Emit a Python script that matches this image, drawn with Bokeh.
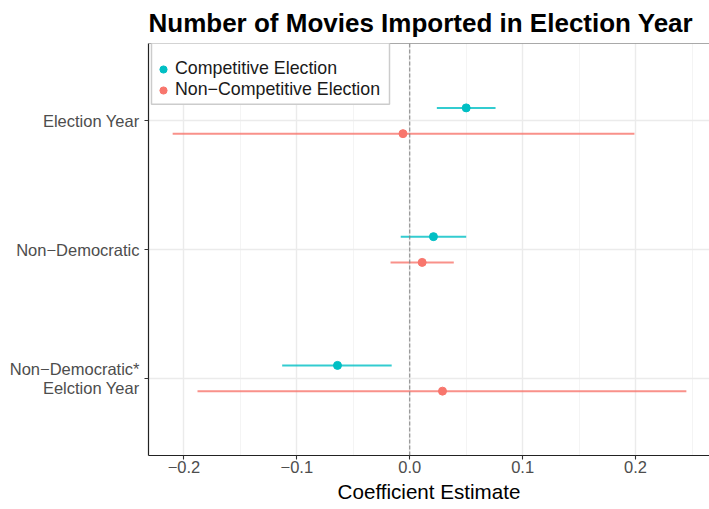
from bokeh.plotting import figure
from bokeh.models import (FixedTicker, Span, Legend, LegendItem, ColumnDataSource,
                          BoxAnnotation)
from bokeh.embed import file_html
from bokeh.resources import INLINE

# ---- data ----
terms = ["Election Year", "Non\u2212Democratic", "Non\u2212Democratic*\nEelction Year"]
term_pos = [3, 2, 1]

comp_est = [0.050, 0.021, -0.064]
comp_lo = [0.024, -0.008, -0.113]
comp_hi = [0.076, 0.050, -0.016]

noncomp_est = [-0.006, 0.011, 0.029]
noncomp_lo = [-0.210, -0.017, -0.188]
noncomp_hi = [0.199, 0.039, 0.245]

series_names = ["Competitive Election", "Non\u2212Competitive Election"]
x_ticks = [-0.2, -0.1, 0.0, 0.1, 0.2]
x_tick_labels = ["\u22120.2", "\u22120.1", "0.0", "0.1", "0.2"]
x_minor = [-0.15, -0.05, 0.05, 0.15, 0.25]

TEAL = "#00BFC4"
SALMON = "#F8766D"
FONT = "Liberation Sans"
dodge = 0.1

X0, X1 = -0.2314, 0.2655
Y0, Y1 = 0.4, 3.6
FRAME_W, FRAME_H = 561, 413

p = figure(width=709, height=509, output_backend="svg", toolbar_location=None,
           x_range=(X0, X1), y_range=(Y0, Y1),
           min_border_left=148, min_border_right=0, min_border_top=42,
           min_border_bottom=54)
p.outline_line_color = None
p.background_fill_color = "white"

# title
p.title.text = "Number of Movies Imported in Election Year"
p.title.text_font = FONT
p.title.text_font_size = "26px"
p.title.text_font_style = "bold"
p.title.text_color = "black"
p.title.align = "left"
p.title.offset = 0
p.title.standoff = 11

# axes
p.xaxis.ticker = FixedTicker(ticks=x_ticks, minor_ticks=x_minor)
p.xaxis.major_label_overrides = {t: l for t, l in zip(x_ticks, x_tick_labels)}
p.yaxis.ticker = FixedTicker(ticks=term_pos)
p.yaxis.major_label_overrides = {t: l for t, l in zip(term_pos, terms)}

for ax in (p.xaxis[0], p.yaxis[0]):
    ax.axis_line_color = "#222222"
    ax.axis_line_width = 1.2
    ax.major_tick_line_color = "#333333"
    ax.major_tick_line_width = 1.1
    ax.major_tick_out = 4
    ax.major_tick_in = 0
    ax.minor_tick_line_color = None
    ax.major_label_text_font = FONT
    ax.major_label_text_font_size = "16.5px"
    ax.major_label_text_color = "#4D4D4D"
    ax.major_label_text_line_height = 1.05

p.xaxis.major_label_standoff = 1
p.yaxis.major_label_standoff = 5
p.xaxis.axis_label = "Coefficient Estimate"
p.xaxis.axis_label_text_font = FONT
p.xaxis.axis_label_text_font_size = "20.6px"
p.xaxis.axis_label_text_font_style = "normal"
p.xaxis.axis_label_text_color = "black"
p.xaxis.axis_label_standoff = 4

# grid
p.xgrid.grid_line_color = "#EBEBEB"
p.xgrid.grid_line_width = 1.4
p.xgrid.minor_grid_line_color = "#F4F4F4"
p.xgrid.minor_grid_line_width = 1.0
p.ygrid.ticker = FixedTicker(ticks=term_pos)
p.ygrid.grid_line_color = "#EBEBEB"
p.ygrid.grid_line_width = 1.4

# top border & zero line
p.add_layout(Span(location=Y1, dimension="width", line_color="#555555", line_width=1.2))
p.add_layout(Span(location=0, dimension="height", line_color="#808080",
                  line_width=1, line_dash="4 2"))

comp_y = [t + dodge for t in term_pos]
non_y = [t - dodge for t in term_pos]

src_c = ColumnDataSource(dict(y=comp_y, est=comp_est, lo=comp_lo, hi=comp_hi))
src_n = ColumnDataSource(dict(y=non_y, est=noncomp_est, lo=noncomp_lo, hi=noncomp_hi))

p.segment(x0="lo", x1="hi", y0="y", y1="y", source=src_c, line_color=TEAL,
          line_width=2, line_alpha=0.8)
p.segment(x0="lo", x1="hi", y0="y", y1="y", source=src_n, line_color=SALMON,
          line_width=2, line_alpha=0.8)
rc = p.scatter(x="est", y="y", source=src_c, size=8, color=TEAL)
rn = p.scatter(x="est", y="y", source=src_n, size=8, color=SALMON)

# legend frame (pixel offsets from the plot frame, converted to range units)
xpx = (X1 - X0) / FRAME_W
ypx = (Y1 - Y0) / FRAME_H
p.add_layout(BoxAnnotation(left=X0 + 3 * xpx, right=X0 + 241 * xpx,
                           top=Y1 + 1 * ypx, bottom=Y1 - 61 * ypx,
                           fill_color="white", fill_alpha=1,
                           line_color="#CCCCCC", line_alpha=1, line_width=1.5))

def make_legend(name, renderer, bottom_px):
    lg = Legend(items=[LegendItem(label=name, renderers=[renderer])],
                location=(6, bottom_px))
    lg.label_text_font = FONT
    lg.label_text_font_size = "17.8px"
    lg.label_text_color = "#1A1A1A"
    lg.glyph_width = 18
    lg.glyph_height = 18
    lg.label_height = 18
    lg.spacing = 0
    lg.padding = 0
    lg.label_standoff = 3
    lg.border_line_color = None
    lg.background_fill_alpha = 0
    return lg

p.add_layout(make_legend(series_names[0], rc, 376))
p.add_layout(make_legend(series_names[1], rn, 355))

open("out.html", "w").write(file_html(p, INLINE))
